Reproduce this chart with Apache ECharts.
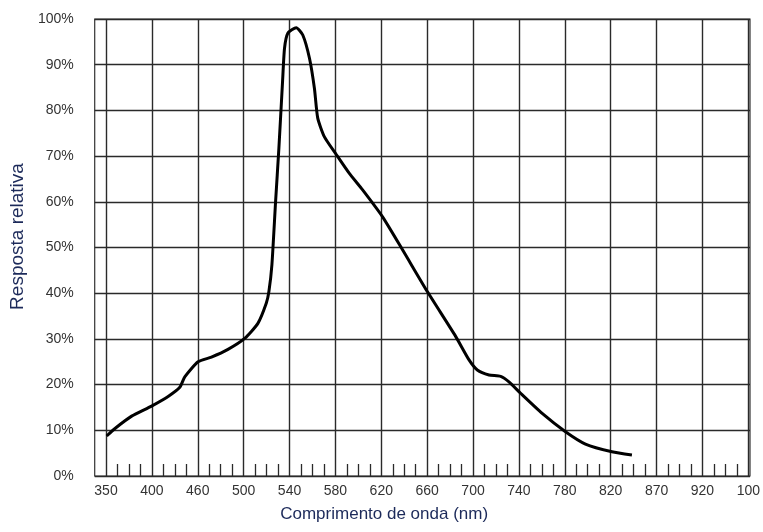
<!DOCTYPE html>
<html>
<head>
<meta charset="utf-8">
<script src="https://cdn.jsdelivr.net/npm/echarts@6/dist/echarts.min.js"></script>
<style>
  html, body { margin: 0; padding: 0; background: #fff; }
  #chart { width: 763px; height: 532px; }
</style>
</head>
<body>
<div id="chart"></div>
<script>
// tick labels of the wavelength axis, one per vertical grid line
var xTickLabels = ['350', '400', '460', '500', '540', '580', '620', '660', '700', '740', '780', '820', '870', '920', '100'];

// curve position along the grid (0 = 350 line, 1 = next line ...) and relative response (%)
var curveX = [0.015, 0.196, 0.559, 0.993, 1.354, 1.609, 1.717, 2.007, 2.298, 2.659,
    3.022, 3.311, 3.493, 3.55, 3.616, 3.696, 3.768, 3.848, 3.891, 3.963,
    4.146, 4.289, 4.435, 4.543, 4.615, 4.761, 5.015, 5.304, 5.593, 6.028,
    6.463, 7.007, 7.624, 7.913, 8.093, 8.348, 8.602, 8.783, 9.037, 9.507,
    10.015, 10.45, 11.028, 11.463];
var curveY = [8.75, 10.4, 13.1, 15.3, 17.4, 19.4, 21.7, 25.0, 26.0, 27.7,
    30.1, 33.4, 37.8, 40.3, 46.2, 60.0, 71.7, 86.3, 93.6, 96.9,
    98.1, 96.5, 91.4, 84.8, 78.3, 74.2, 70.4, 66.2, 62.6, 56.7,
    49.5, 40.3, 30.5, 25.4, 23.2, 22.1, 21.8, 20.6, 18.1, 13.7,
    9.7, 7.0, 5.3, 4.6];

var seriesData = [];
for (var i = 0; i < curveX.length; i++) {
    seriesData.push([curveX[i], curveY[i]]);
}

var lineColor = '#2a2a2a';

var option = {
    backgroundColor: '#fff',
    animation: false,
    grid: [
        // outer frame (reaches a little left of the 350 line)
        {left: 94, right: 13, top: 19, bottom: 56, show: true, borderColor: '#333', borderWidth: 1.2},
        // plotting grid
        {left: 106, right: 13, top: 19, bottom: 56}
    ],
    xAxis: [
        {gridIndex: 0, type: 'value', min: 0, max: 1, show: false},
        {
            gridIndex: 1,
            type: 'value',
            min: 0,
            max: 14,
            interval: 1,
            axisLine: {show: false},
            axisTick: {show: false, inside: true},
            minorTick: {show: true, splitNumber: 4, length: 12, lineStyle: {color: lineColor, width: 1.3}},
            splitLine: {show: true, lineStyle: {color: lineColor, width: 1.4}},
            axisLabel: {
                margin: 8,
                color: '#333',
                fontSize: 14,
                fontFamily: 'Liberation Sans',
                showMinLabel: true,
                showMaxLabel: true,
                formatter: function (v) {
                    return xTickLabels[Math.round(v)];
                }
            },
            name: 'Comprimento de onda (nm)',
            nameLocation: 'middle',
            nameGap: 30,
            nameTextStyle: {
                color: '#1c2a5a',
                fontSize: 17,
                fontFamily: 'Liberation Sans',
                padding: [0, 86, 0, 0]
            }
        }
    ],
    yAxis: [
        {
            gridIndex: 0,
            type: 'value',
            min: 0,
            max: 100,
            interval: 10,
            axisLine: {show: false},
            axisTick: {show: false},
            splitLine: {show: true, lineStyle: {color: lineColor, width: 1.4}},
            axisLabel: {
                margin: 21,
                color: '#333',
                fontSize: 14,
                fontFamily: 'Liberation Sans',
                padding: [0, 0, 8, 0],
                formatter: '{value}%'
            },
            name: 'Resposta relativa',
            nameLocation: 'middle',
            nameGap: 66,
            nameTextStyle: {
                color: '#1c2a5a',
                fontSize: 19,
                fontFamily: 'Liberation Sans',
                padding: [0, 0, 0, 22]
            }
        },
        {gridIndex: 1, type: 'value', min: 0, max: 100, show: false}
    ],
    series: [
        {
            name: 'Resposta relativa',
            type: 'line',
            xAxisIndex: 1,
            yAxisIndex: 1,
            data: seriesData,
            smooth: 0.2,
            showSymbol: false,
            lineStyle: {color: '#000', width: 3}
        }
    ]
};

var myChart = echarts.init(document.getElementById('chart'));
myChart.setOption(option);
</script>
</body>
</html>
